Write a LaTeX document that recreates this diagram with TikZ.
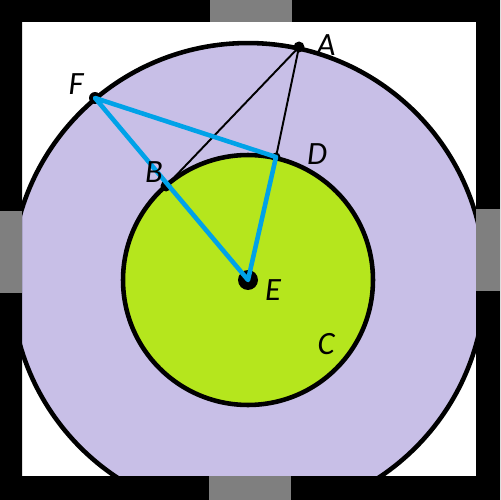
\documentclass[tikz,border=0pt]{standalone}
\usepackage{fontspec}
\setmainfont{Carlito}
\definecolor{lavender}{HTML}{C8BFE7}
\definecolor{lime}{HTML}{B5E61D}
\definecolor{paintblue}{HTML}{00A2E8}
\definecolor{tabgray}{HTML}{7F7F7F}
\begin{document}
\begin{tikzpicture}[x=0.02cm, y=-0.02cm, line cap=round, line join=round,
  ring/.style={line width=2.6pt, draw=black},
  chord/.style={line width=1.1pt, black},
  side/.style={line width=2.6pt, paintblue},
  lbl/.style={font=\itshape\fontsize{18.5}{20}\selectfont, inner sep=0pt}]
  % Define frame bounds (pixel units, y pointing down)
  \def\fmin{22} \def\fmax{476}
  \useasboundingbox (0,0) rectangle (500,500);
  \fill[white] (0,0) rectangle (500,500);

  % Key points
  \coordinate (E) at (248,280);
  \coordinate (A) at (299,47);
  \coordinate (F) at (95,98);
  \coordinate (B) at (166,186);
  \coordinate (D) at (276,157);

  % Scope to clip the outer circle within the frame
  \begin{scope}
    \clip (\fmin,\fmin) rectangle (\fmax,\fmax);
    \filldraw[ring, fill=lavender] (E) circle[radius=4.74cm];
    \filldraw[ring, fill=lime] (E) circle[radius=2.5cm];
  \end{scope}

  % Thin lines from A
  \draw[chord] (A) -- (B);
  \draw[chord] (A) -- (D);

  % Points marked with filled circles
  \fill (A) circle (0.11cm);
  \fill (F) circle (0.12cm);
  \fill (B) circle (0.11cm);
  \fill (D) circle (0.09cm);
  \fill (E) circle (0.2cm);

  % Blue triangle F-D-E
  \draw[side] (F) -- (D) -- (E) -- cycle;

  % Labels
  \node[lbl] (labA) at (326,45) {A};
  \node[lbl] (labF) at (76,84) {F};
  \node[lbl] (labB) at (154,172) {B};
  \node[lbl] (labD) at (317,154) {D};
  \node[lbl] (labE) at (273,290) {E};
  \node[lbl] (labC) at (326,344) {C};

  % Frame with grey tabs
  \fill[black, even odd rule] (0,0) rectangle (500,500) (\fmin,\fmin) rectangle (\fmax,\fmax);
  \fill[tabgray] (210,0) rectangle (292,\fmin);
  \fill[tabgray] (0,211) rectangle (\fmin,293);
  \fill[tabgray] (\fmax,209) rectangle (500,291);
  \fill[tabgray] (209,\fmax) rectangle (291,500);
\end{tikzpicture}
\end{document}
